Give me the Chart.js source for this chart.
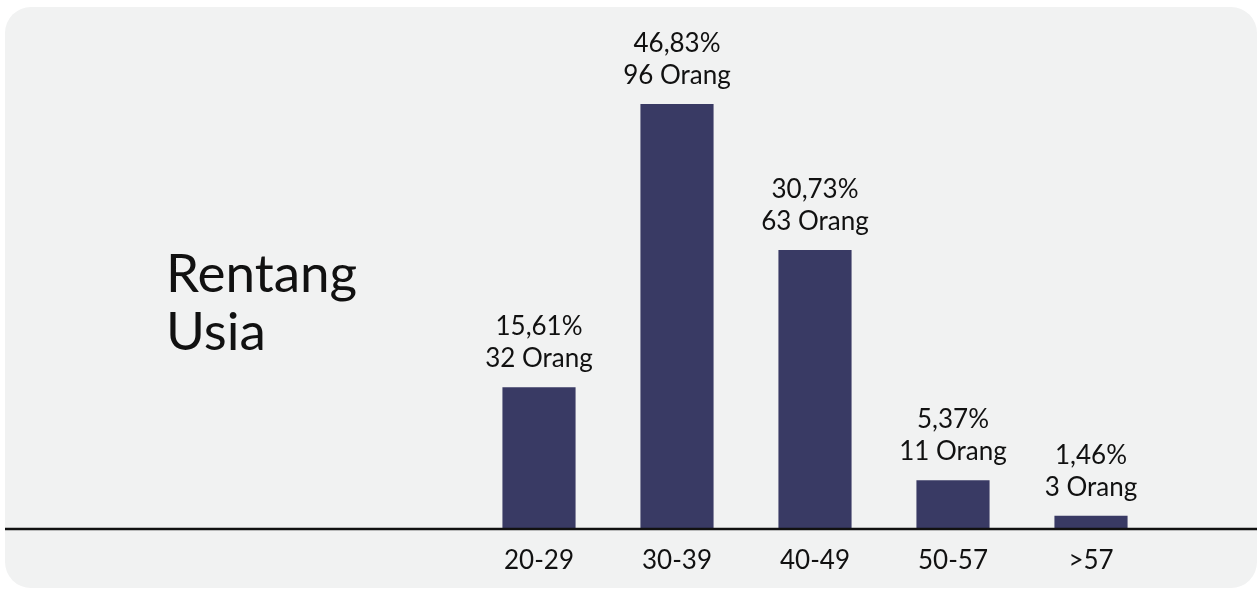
<!DOCTYPE html>
<html>
<head>
<meta charset="utf-8">
<script src="https://cdn.jsdelivr.net/npm/chart.js@4"></script>
<style>
  html, body { margin: 0; padding: 0; background: #ffffff; }
  #wrap { position: relative; width: 1258px; height: 589px; }
  #panel { position: absolute; left: 5px; top: 7px; width: 1252px; height: 581px; background: #f1f2f2; border-radius: 26px; }
  #judul { position: absolute; left: 166px; top: 243px; font-family: Lato, sans-serif; font-size: 53px; line-height: 58px; color: #111; }
  #usiaChart { position: absolute; left: 0; top: 0; }
</style>
</head>
<body>
<div id="wrap">
  <div id="panel"></div>
  <div id="judul">Rentang<br>Usia</div>
  <canvas id="usiaChart" width="1258" height="589"></canvas>
</div>
<script>
var kategori = ['20-29', '30-39', '40-49', '50-57', '>57'];
var jumlahOrang = [32, 96, 63, 11, 3];
var persen = ['15,61%', '46,83%', '30,73%', '5,37%', '1,46%'];

// label persen + jumlah di atas tiap batang
var labelAtas = {
    id: 'labelAtas',
    afterDatasetsDraw: function (chart) {
        var ctx = chart.ctx;
        var meta = chart.getDatasetMeta(0);
        ctx.save();
        ctx.fillStyle = '#111111';
        ctx.font = '26px Lato';
        ctx.textAlign = 'center';
        ctx.textBaseline = 'alphabetic';
        meta.data.forEach(function (bar, i) {
            ctx.fillText(persen[i], bar.x, bar.y - 52);
            ctx.fillText(jumlahOrang[i] + ' Orang', bar.x, bar.y - 20);
        });
        ctx.restore();
    }
};

// garis dasar selebar panel
var garisDasar = {
    id: 'garisDasar',
    afterDatasetsDraw: function (chart) {
        var ctx = chart.ctx;
        var y = chart.scales.y.getPixelForValue(0);
        ctx.save();
        ctx.strokeStyle = '#111111';
        ctx.lineWidth = 2.5;
        ctx.beginPath();
        ctx.moveTo(5, y);
        ctx.lineTo(1257, y);
        ctx.stroke();
        ctx.restore();
    }
};

function buatChart() {
    var ctx = document.getElementById('usiaChart').getContext('2d');
    new Chart(ctx, {
        type: 'bar',
        data: {
            labels: kategori,
            datasets: [{
                label: 'Jumlah',
                data: jumlahOrang,
                backgroundColor: '#393a64',
                borderWidth: 0,
                categoryPercentage: 1,
                barPercentage: 0.53
            }]
        },
        options: {
            responsive: false,
            animation: false,
            layout: { padding: { left: 470, right: 98, top: 42, bottom: 0 } },
            plugins: { legend: { display: false }, tooltip: { enabled: false } },
            scales: {
                x: {
                    grid: { display: false, drawTicks: false },
                    border: { display: false },
                    ticks: { color: '#111111', font: { family: 'Lato', size: 26 }, padding: 16 },
                    afterFit: function (s) { s.height = 60; }
                },
                y: {
                    display: false,
                    min: 0,
                    max: 110
                }
            }
        },
        plugins: [labelAtas, garisDasar]
    });
}

if (document.fonts && document.fonts.load) {
    document.fonts.load('26px Lato').then(buatChart, buatChart);
} else {
    buatChart();
}
</script>
</body>
</html>
